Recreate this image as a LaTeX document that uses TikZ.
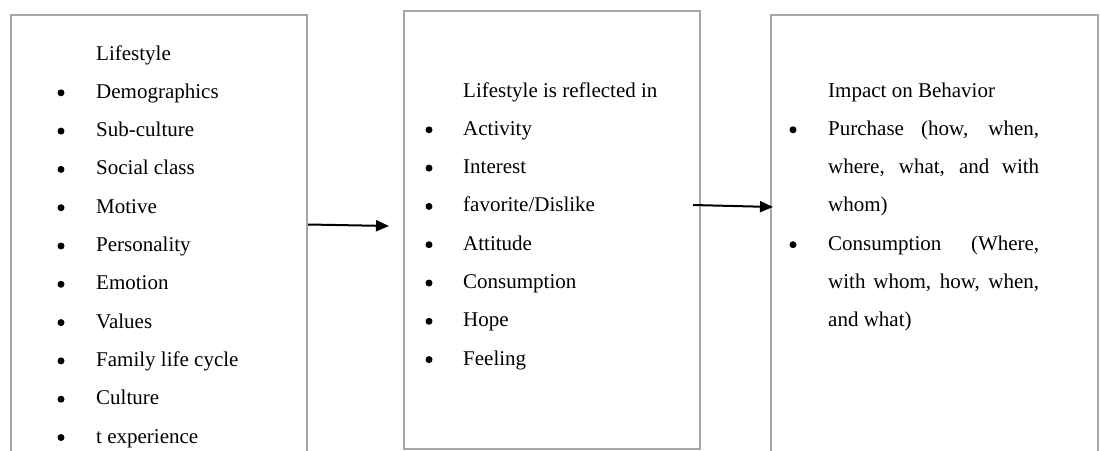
\documentclass[tikz,border=0pt]{standalone}
\usepackage{fontspec}
\setmainfont{Liberation Serif}
\usetikzlibrary{arrows.meta}
\begin{document}
\begin{tikzpicture}[x=1pt,y=-1pt,
  box/.style={draw=black!35, line width=2pt, anchor=north west, inner sep=0pt},
  txt/.style={anchor=base west, inner sep=0pt, font=\fontsize{21}{25}\selectfont},
  bul/.style={circle, fill=black, inner sep=0pt, minimum size=7pt},
  arr/.style={-{Triangle[length=13pt,width=11pt]}, line width=2pt}]
\clip (0,0) rectangle (1100,450);
% boxes
\node[box, minimum width=296pt, minimum height=480pt] (L) at (10,14) {};
\node[box, minimum width=296pt, minimum height=438pt] (M) at (403,10) {};
\node[box, minimum width=327pt, minimum height=480pt] (R) at (770,14) {};
% left box
\node[txt] (l0) at (96,60) {Lifestyle};
\foreach \t [count=\i] in {Demographics, Sub-culture, Social class, Motive, Personality, Emotion, Values, Family life cycle, Culture, t experience} {
  \node[txt] (l\i) at (96,{60+38.3*\i}) {\t};
  \node[bul] (lb\i) at (61,{54.5+38.3*\i}) {};
}
% middle box
\node[txt] (m0) at (463,97) {Lifestyle is reflected in};
\foreach \t [count=\i] in {Activity, Interest, favorite/Dislike, Attitude, Consumption, Hope, Feeling} {
  \node[txt] (m\i) at (463,{97+38.3*\i}) {\t};
  \node[bul] (mb\i) at (429,{91.5+38.3*\i}) {};
}
% right box
\node[txt] (r0) at (828,97) {Impact on Behavior};
\node[txt] (r1) at (828,135.3) {\makebox[211pt][s]{Purchase (how, when,}};
\node[txt] (r2) at (828,173.6) {\makebox[211pt][s]{where, what, and with}};
\node[txt] (r3) at (828,211.9) {whom)};
\node[txt] (r4) at (828,250.2) {\makebox[211pt][s]{Consumption (Where,}};
\node[txt] (r5) at (828,288.5) {\makebox[211pt][s]{with whom, how, when,}};
\node[txt] (r6) at (828,326.8) {and what)};
\node[bul] (rb1) at (793,129.8) {};
\node[bul] (rb4) at (793,244.7) {};
% arrows
\coordinate (a1s) at (308,224.5);
\coordinate (a1e) at (389,226);
\coordinate (a2s) at (693,205);
\coordinate (a2e) at (773,207);
\draw[arr] (a1s) -- (a1e);
\draw[arr] (a2s) -- (a2e);
\end{tikzpicture}
\end{document}
